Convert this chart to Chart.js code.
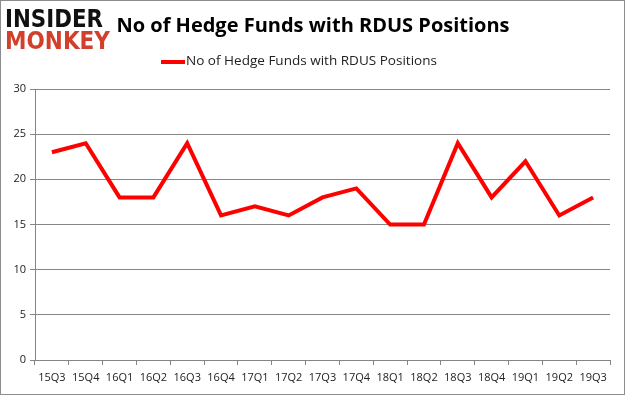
<!DOCTYPE html>
<html><head><meta charset="utf-8">
<script src="https://cdn.jsdelivr.net/npm/chart.js@4/dist/chart.umd.min.js"></script>
<style>html,body{margin:0;padding:0;background:#fff}#wrap{width:625px;height:395px;position:relative}</style>
</head><body><div id="wrap"><canvas id="c" width="625" height="395"></canvas></div>
<script>
const categories = ["15Q3","15Q4","16Q1","16Q2","16Q3","16Q4","17Q1","17Q2","17Q3","17Q4","18Q1","18Q2","18Q3","18Q4","19Q1","19Q2","19Q3"];
const fundCounts = [23,24,18,18,24,16,17,16,18,19,15,15,24,18,22,16,18];
const seriesName = "No of Hedge Funds with RDUS Positions";
const chartTitle = "No of Hedge Funds with RDUS Positions";
const yTicks = [0,5,10,15,20,25,30];

function fitText(ctx, txt, x, y, w) {
  const m = ctx.measureText(txt).width;
  ctx.save(); ctx.translate(x, y); ctx.scale(w / m, 1); ctx.fillText(txt, 0, 0); ctx.restore();
}

const deco = {
  id: 'deco',
  afterDraw(chart) {
    const ctx = chart.ctx;
    ctx.save();
    ctx.strokeStyle = '#8c8c8c'; ctx.lineWidth = 1;
    ctx.strokeRect(0.5, 0.5, 624, 394);
    // logo
    ctx.textBaseline = 'alphabetic'; ctx.textAlign = 'left';
    ctx.font = 'bold 24px "DejaVu Sans"';
    ctx.fillStyle = '#111';
    fitText(ctx, 'INSIDER', 5, 27, 98);
    ctx.fillStyle = '#d23f2a';
    fitText(ctx, 'MONKEY', 5, 49, 105);
    // title
    ctx.fillStyle = '#000';
    ctx.font = 'bold 20px "Open Sans"';
    ctx.textAlign = 'center'; ctx.textBaseline = 'middle';
    ctx.fillText(chartTitle, 313, 26);
    // legend
    ctx.strokeStyle = '#ff0000'; ctx.lineWidth = 4; ctx.lineCap = 'butt';
    ctx.beginPath(); ctx.moveTo(161, 62); ctx.lineTo(185, 62); ctx.stroke();
    ctx.fillStyle = '#222'; ctx.font = '12px "Open Sans"'; ctx.textAlign = 'left';
    fitText(ctx, seriesName, 186, 62, 251);
    ctx.restore();
  }
};

new Chart(document.getElementById('c'), {
  type: 'line',
  data: { labels: categories, datasets: [{ label: seriesName, data: fundCounts, borderColor: '#ff0000', backgroundColor: '#ff0000', borderWidth: 4, pointRadius: 0, tension: 0, borderJoinStyle: 'miter' }] },
  options: {
    responsive: false, animation: false, devicePixelRatio: 1,
    layout: { padding: { top: 89, right: 15, left: 0, bottom: 0 } },
    plugins: { legend: { display: false }, title: { display: false }, tooltip: { enabled: false } },
    scales: {
      x: {
        offset: true,
        grid: { offset: true, drawOnChartArea: false, drawTicks: true, tickLength: 5, color: '#868686' },
        border: { color: '#868686' },
        ticks: { color: '#222', font: { family: '"Open Sans"', size: 11 }, maxRotation: 0, autoSkip: false, padding: 6 },
        afterFit(s) { s.height = 35; }
      },
      y: {
        min: 0, max: 30,
        afterBuildTicks(s) { s.ticks = yTicks.map(v => ({ value: v })); },
        grid: { color: '#868686', tickLength: 5 },
        border: { color: '#868686' },
        ticks: { color: '#222', font: { family: '"Open Sans"', size: 11 }, padding: 4 },
        afterFit(s) { s.width = 35; }
      }
    }
  },
  plugins: [deco]
});
</script></body></html>
